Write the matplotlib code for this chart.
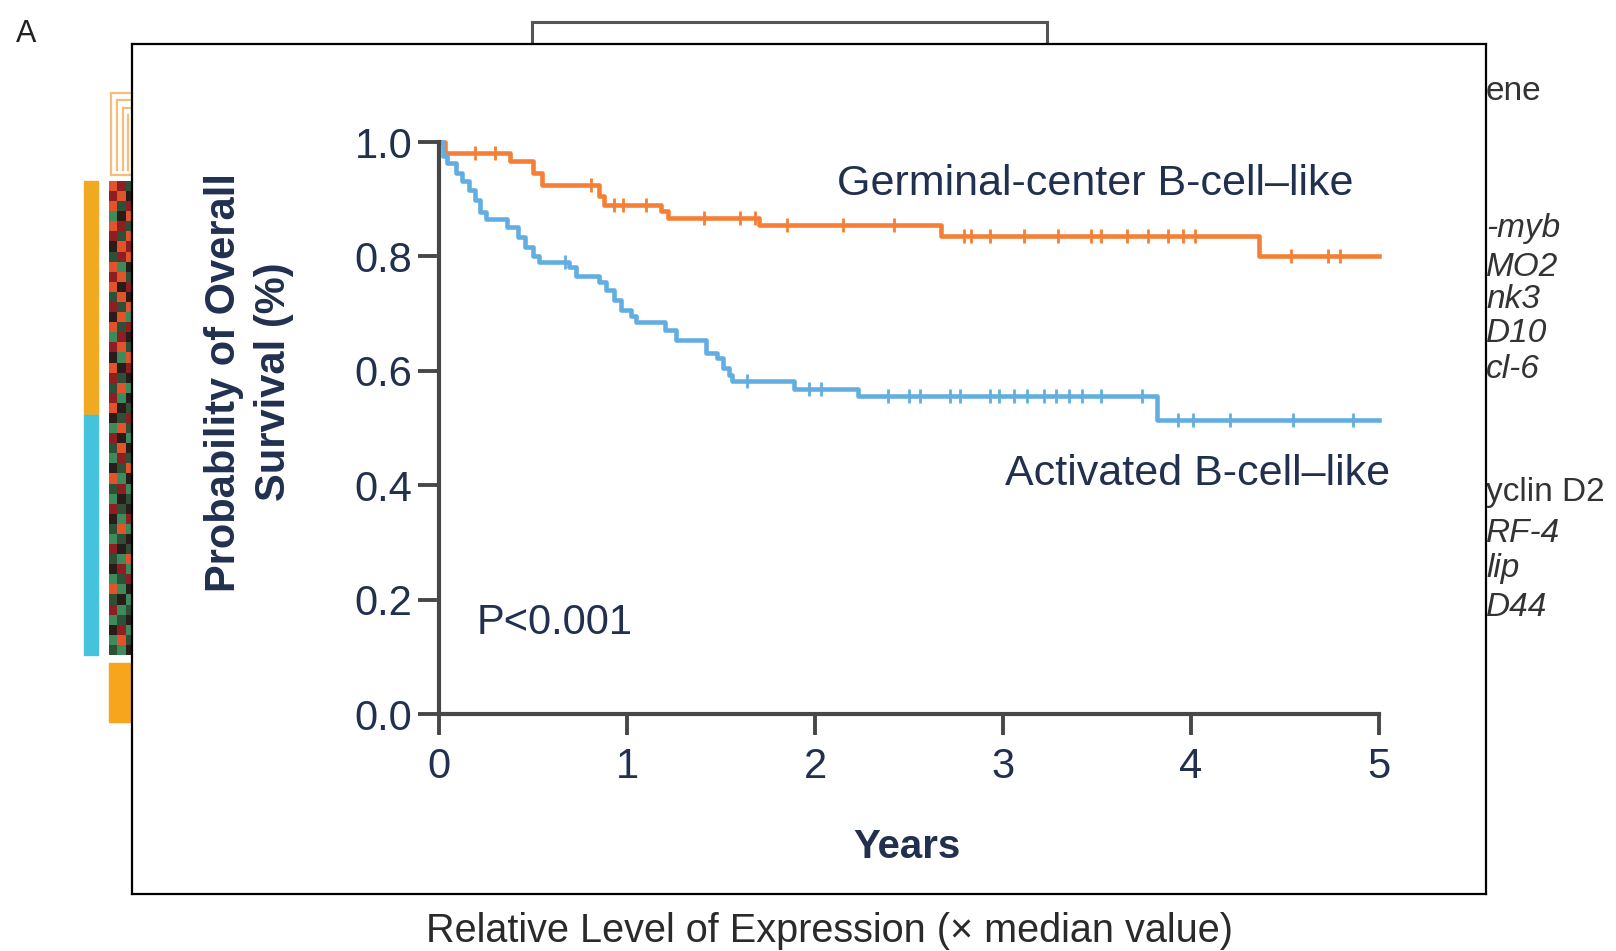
import numpy as np
import matplotlib
matplotlib.use("Agg")
import matplotlib.pyplot as plt
from matplotlib.colors import LinearSegmentedColormap
from matplotlib.patches import Rectangle
from matplotlib.lines import Line2D

plt.rcParams['font.family'] = ['Liberation Sans', 'DejaVu Sans']

# Kaplan-Meier steps (years, survival probability)
gcb_t = [0, 0.03, 0.38, 0.50, 0.55, 0.85, 0.88, 1.18, 1.22, 1.70, 2.67, 4.36, 5.0]
gcb_s = [1.0, 0.980, 0.966, 0.945, 0.925, 0.905, 0.890, 0.880, 0.868, 0.855, 0.836, 0.800, 0.800]
abc_t = [0, 0.02, 0.04, 0.09, 0.12, 0.16, 0.19, 0.22, 0.25, 0.36, 0.42, 0.46, 0.50,
         0.53, 0.69, 0.73, 0.85, 0.89, 0.93, 0.97, 1.02, 1.05, 1.20, 1.26, 1.42,
         1.48, 1.51, 1.54, 1.56, 1.89, 2.23, 3.82, 5.0]
abc_s = [1.0, 0.975, 0.963, 0.945, 0.931, 0.916, 0.899, 0.878, 0.866, 0.852, 0.834,
         0.817, 0.800, 0.790, 0.782, 0.765, 0.755, 0.741, 0.724, 0.706, 0.695, 0.686,
         0.671, 0.654, 0.631, 0.622, 0.605, 0.593, 0.582, 0.569, 0.556, 0.514, 0.514]

# censored patients
gcb_censor = [0.19, 0.30, 0.81, 0.93, 0.98, 1.10, 1.41, 1.60, 1.68, 1.85, 2.15, 2.42,
              2.79, 2.83, 2.93, 3.11, 3.29, 3.47, 3.52, 3.66, 3.77, 3.88, 3.96, 4.02,
              4.53, 4.73, 4.79]
abc_censor = [0.67, 1.64, 1.97, 2.03, 2.39, 2.50, 2.56, 2.72, 2.77, 2.93, 2.98, 3.06,
              3.13, 3.22, 3.28, 3.35, 3.42, 3.52, 3.74, 3.93, 4.01, 4.21, 4.54, 4.86]

x_ticks = [0, 1, 2, 3, 4, 5]
y_ticks = [0.0, 0.2, 0.4, 0.6, 0.8, 1.0]

# gene labels peeking out right of the survival panel (text, y pixel, italic)
genes = [("ene", 91, False), ("-myb", 229, True), ("MO2", 267, True),
         ("nk3", 300, True), ("D10", 333, True), ("cl-6", 370, True),
         ("yclin D2", 493, False), ("RF-4", 533, True),
         ("lip", 568, True), ("D44", 607, True)]

# expression strip, 0 = low (green) .. 4 = high (red)
heat_rows = ["431", "342", "413", "024", "431", "314", "243", "134", "402", "341",
             "423", "142", "314", "240", "413", "032", "341", "204", "423", "312",
             "140", "302", "421", "213", "041", "320", "142", "031", "214", "402",
             "130", "021", "312", "203", "140", "012", "321", "104", "230", "013",
             "402", "120", "301", "012", "230", "041", "102"]
heat = np.array([[int(c) for c in r] for r in heat_rows])

W, H = 1616, 951
fig = plt.figure(figsize=(W / 100, H / 100), dpi=100)
fig.patch.set_facecolor('white')


def fx(x):
    return x / W


def fy(y):
    return 1 - y / H


def box(x0, y0, x1, y1):
    return [fx(x0), fy(y1), fx(x1) - fx(x0), fy(y0) - fy(y1)]


txt = '#22304f'
orange = '#f47f35'
blue = '#62aee0'

# background figure pieces
fig.text(fx(26), fy(34), "A", fontsize=22, color='#222222', ha='center', va='center')
fig.patches.append(Rectangle((fx(532), fy(300)), fx(1047) - fx(532), fy(22) - fy(300),
                             transform=fig.transFigure, fill=False, ec='#555555', lw=2.2,
                             zorder=1))
fig.patches.append(Rectangle((fx(84), fy(415)), fx(98) - fx(84), fy(181) - fy(415),
                             transform=fig.transFigure, color='#f2a922', zorder=1))
fig.patches.append(Rectangle((fx(84), fy(655)), fx(98) - fx(84), fy(415) - fy(655),
                             transform=fig.transFigure, color='#45c3dc', zorder=1))
fig.patches.append(Rectangle((fx(109), fy(722)), fx(134) - fx(109), fy(663) - fy(722),
                             transform=fig.transFigure, color='#f7a51c', zorder=1))

# small dendrogram above the strip
dend = [((111, 93), (134, 93)), ((111, 93), (111, 175)), ((111, 175), (134, 175)),
        ((117, 100), (134, 100)), ((117, 100), (117, 170)), ((123, 108), (123, 170)),
        ((123, 108), (134, 108)), ((128, 115), (128, 170))]
for (xa, ya), (xb, yb) in dend:
    fig.lines.append(Line2D([fx(xa), fx(xb)], [fy(ya), fy(yb)], transform=fig.transFigure,
                            color='#f4bd7a', lw=1.6, zorder=1))

hcmap = LinearSegmentedColormap.from_list('hm', ['#3d8a5a', '#2f5138', '#2b1c1c',
                                                 '#8e1e22', '#e2532b'])
axh = fig.add_axes(box(109, 181, 134, 655), zorder=1)
axh.imshow(heat, cmap=hcmap, aspect='auto', interpolation='nearest', vmin=0, vmax=4)
axh.axis('off')

for name, y, it in genes:
    fig.text(fx(1486), fy(y), name, fontsize=24, color='#333333', ha='left', va='center',
             style='italic' if it else 'normal', zorder=2)

fig.text(fx(830), fy(931), "Relative Level of Expression (\u00d7 median value)",
         fontsize=28.5, color='#2a2a2a', ha='center', va='center')

# white panel with the survival curves
frame = fig.add_axes(box(132, 44, 1486, 894), zorder=5)
frame.set_facecolor('white')
frame.set_xticks([])
frame.set_yticks([])
for sp in frame.spines.values():
    sp.set_color('black')
    sp.set_linewidth(1.6)

ax = fig.add_axes(box(439, 142, 1379, 714), zorder=6)
ax.patch.set_alpha(0)
ax.plot(gcb_t, gcb_s, drawstyle='steps-post', color=orange, lw=3.3, clip_on=False)
ax.plot(abc_t, abc_s, drawstyle='steps-post', color=blue, lw=3.3, clip_on=False)


def surv_at(ts, ss, c):
    i = np.searchsorted(ts, c, side='right') - 1
    return np.array(ss)[i]


ax.plot(gcb_censor, surv_at(gcb_t, gcb_s, gcb_censor), ls='none', marker='|',
        ms=10, mew=2, color=orange)
ax.plot(abc_censor, surv_at(abc_t, abc_s, abc_censor), ls='none', marker='|',
        ms=10, mew=2, color=blue)

ax.set_xlim(0, 5)
ax.set_ylim(0, 1)
ax.set_xticks(x_ticks)
ax.set_yticks(y_ticks)
ax.set_yticklabels([f"{v:.1f}" for v in y_ticks])
for s in ['top', 'right']:
    ax.spines[s].set_visible(False)
for s in ['left', 'bottom']:
    ax.spines[s].set_color('#474747')
    ax.spines[s].set_linewidth(3)
ax.tick_params(axis='both', direction='out', length=15, width=2.8, color='#474747',
               labelsize=30, labelcolor=txt)
ax.tick_params(axis='y', pad=4)
ax.tick_params(axis='x', pad=9)

ax.text(2.117, 0.926, "Germinal-center B-cell\u2013like", fontsize=31, color=txt,
        ha='left', va='center')
ax.text(3.01, 0.42, "Activated B-cell\u2013like", fontsize=31, color=txt,
        ha='left', va='center')
ax.text(0.2, 0.159, "P<0.001", fontsize=30, color=txt, ha='left', va='center')

fig.text(fx(907), fy(847), "Years", fontsize=29, fontweight='bold', color=txt,
         ha='center', va='center', zorder=7)
fig.text(fx(249), fy(382), "Probability of Overall\nSurvival (%)", fontsize=30,
         fontweight='bold', color=txt, ha='center', va='center', rotation=90,
         multialignment='center', linespacing=1.3, zorder=7)

fig.savefig("out.png", dpi=100)
